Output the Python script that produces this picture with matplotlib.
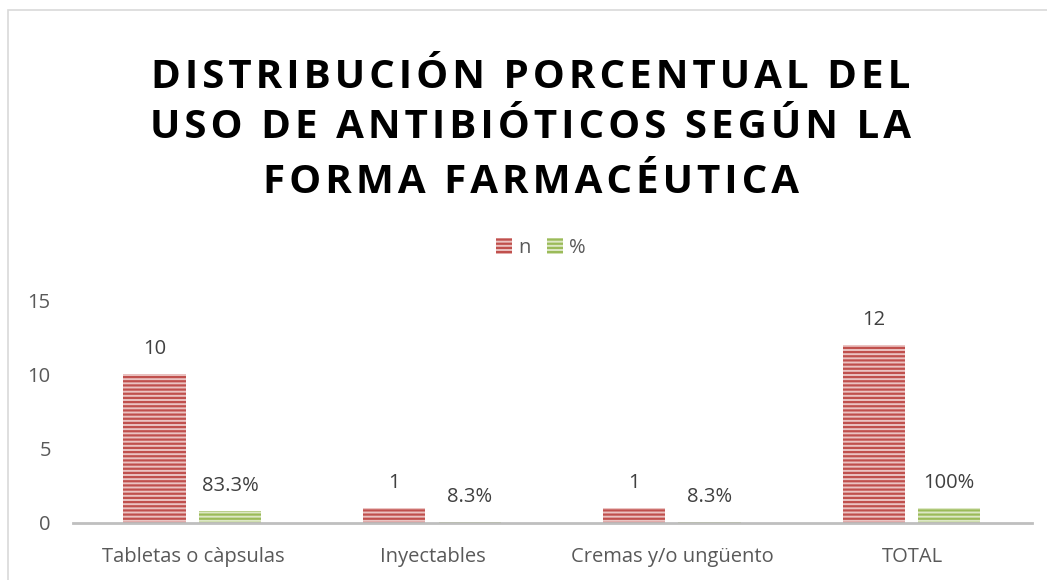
import matplotlib
matplotlib.use("Agg")
import matplotlib.pyplot as plt
from matplotlib.patches import Rectangle
import numpy as np

categories = ["Tabletas o càpsulas", "Inyectables", "Cremas y/o ungüento", "TOTAL"]
n_values = [10, 1, 1, 12]
pct_values = [0.833, 0.083, 0.083, 1.0]
n_labels = ["10", "1", "1", "12"]
pct_labels = ["83.3%", "8.3%", "8.3%", "100%"]
title_lines = ["DISTRIBUCIÓN PORCENTUAL DEL", "USO DE ANTIBIÓTICOS SEGÚN LA", "FORMA FARMACÉUTICA"]

plt.rcParams['font.family'] = ['Open Sans', 'DejaVu Sans']
plt.rcParams['hatch.linewidth'] = 1.6

W, H = 1047, 580
fig = plt.figure(figsize=(W / 100, H / 100), dpi=100)
ax = fig.add_axes([73 / W, 57 / H, (1032 - 73) / W, 223 / H])

FS = 14.5
x = np.arange(len(categories))
bw = 0.26
b1 = ax.bar(x - 0.16, n_values, bw, facecolor='#EBC3C2', edgecolor='#C0504D',
            hatch='----', linewidth=0, label='n')
b2 = ax.bar(x + 0.155, pct_values, bw, facecolor='#DDE8C6', edgecolor='#9BBB59',
            hatch='----', linewidth=0, label='%')

for xi, v, lab in zip(x - 0.16, n_values, n_labels):
    ax.annotate(lab, (xi, v), xytext=(0, 18), textcoords='offset points',
                ha='center', va='center', fontsize=FS, color='#404040')
for xi, v, lab in zip(x + 0.155, pct_values, pct_labels):
    ax.annotate(lab, (xi, v), xytext=(0, 18), textcoords='offset points',
                ha='center', va='center', fontsize=FS, color='#404040')

ax.set_xlim(-0.5, 3.5)
ax.set_ylim(0, 15)
ax.set_yticks([0, 5, 10, 15])
ax.set_xticks(x)
ax.set_xticklabels(categories)
ax.tick_params(axis='both', length=0, labelsize=FS, labelcolor='#595959')
ax.tick_params(axis='y', pad=16)
ax.tick_params(axis='x', pad=17)
for s in ['top', 'right', 'left']:
    ax.spines[s].set_visible(False)
ax.spines['bottom'].set_color('#BFBFBF')
ax.spines['bottom'].set_linewidth(2)

hs = '\u200a'
ys = [77, 128, 182]
for line, yy in zip(title_lines, ys):
    spaced = hs.join(list(line))
    fig.text(531 / W, 1 - yy / H, spaced, ha='center', va='center',
             fontsize=29, fontweight='bold', color='black')

fig.legend(handles=[b1, b2], labels=['n', '%'], loc='center', ncol=2,
           bbox_to_anchor=(541 / W, 1 - 248 / H), frameon=False, fontsize=FS,
           labelcolor='#595959', handlelength=0.8, handleheight=0.8,
           handletextpad=0.3, columnspacing=0.8)

fig.patches.append(Rectangle((8 / W, -0.1), 1.2, 1.1 - 10 / H, transform=fig.transFigure,
                             fill=False, edgecolor='#D9D9D9', linewidth=1.2))

fig.savefig('out.png', dpi=100)
